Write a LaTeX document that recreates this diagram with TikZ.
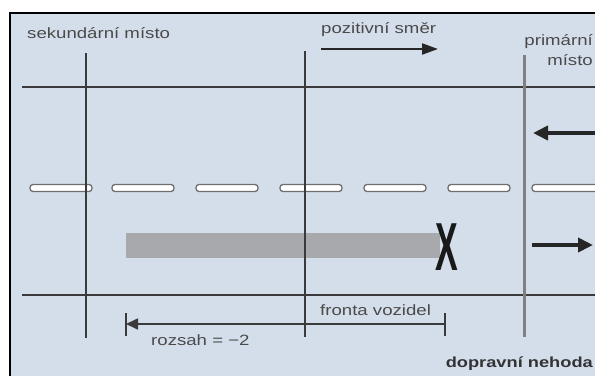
\documentclass[tikz,border=0pt]{standalone}
\usepackage{fontspec}
\setmainfont{Liberation Sans}
\newfontfamily\widefont[FakeStretch=1.25]{Liberation Sans}
\usetikzlibrary{arrows.meta}

\definecolor{panel}{HTML}{D4DEEA}
\definecolor{ink}{HTML}{3A3A3A}
\definecolor{txt}{HTML}{4A4A4A}
\definecolor{queue}{HTML}{A7A9AD}
\definecolor{markedge}{HTML}{6E6E6E}

\tikzset{
  roadedge/.style={draw=ink, line width=2pt},
  crossline/.style={draw=ink, line width=1.7pt},
  primline/.style={draw=black!50, line width=3pt},
  lanemark/.style={draw=markedge, fill=white, line width=1.3pt, rounded corners=3pt},
  lbl/.style={text=txt, inner sep=0pt, font=\widefont\fontsize{14.9}{17}\selectfont},
  boldlbl/.style={text=black!80, inner sep=0pt, font=\widefont\bfseries\fontsize{14.6}{17}\selectfont},
  flowarrow/.style={draw=black!85, line width=4.5pt, -{Triangle[length=15pt,width=14pt]}},
  dirarrow/.style={draw=black!85, line width=2.2pt, -{Triangle[length=16pt,width=11pt]}},
  tick/.style={draw=ink, line width=1.7pt},
}

\begin{document}
\begin{tikzpicture}[x=1pt, y=-1pt]
  \useasboundingbox (0,0) rectangle (595,376);

  % panel with its top and left edge
  \fill[panel] (10,13) rectangle (595,376);
  \draw[black, line width=2.4pt] (10,376) -- (10,13) -- (595,13);

  % road edges
  \draw[roadedge] (22,87) -- (595,87);
  \draw[roadedge] (22,295) -- (595,295);

  % centre lane markings
  \foreach \x in {30,112,196,280,364,448} {
    \draw[lanemark] (\x,184.5) rectangle ++(62,7);
  }
  \draw[lanemark] (532,184.5) rectangle (600,191.5);

  % stopped vehicle queue
  \fill[queue] (126,233) rectangle (440,258);

  % cross sections
  \draw[crossline] (86,53) -- (86,338);
  \draw[crossline] (305,51) -- (305,337);
  \draw[primline] (524,55) -- (524,337);

  % accident mark
  \node[inner sep=0pt, text=black!90] (crash) at (446.5,247.5)
    {\scalebox{0.85}[1.7]{\fontsize{40}{40}\selectfont\bfseries X}};

  % traffic directions
  \coordinate (inR) at (595,133);
  \coordinate (inL) at (533,133);
  \coordinate (outL) at (532,245);
  \coordinate (outR) at (593,245);
  \draw[flowarrow] (inR) -- (inL);
  \draw[flowarrow] (outL) -- (outR);

  % positive direction
  \coordinate (posA) at (321,49);
  \coordinate (posB) at (438,49);
  \draw[dirarrow] (posA) -- (posB);

  % queue extent
  \coordinate (rangeL) at (126,324);
  \coordinate (rangeR) at (445,324);
  \draw[tick] (126,313) -- (126,336);
  \draw[tick] (445,313) -- (445,336);
  \draw[draw=ink, line width=1.7pt, -{Triangle[length=12pt,width=11pt]}] (rangeR) -- (rangeL);

  % labels
  \node[lbl, anchor=base west] (sec) at (27,38) {sekundární místo};
  \node[lbl, anchor=base west] (pos) at (321,33) {pozitivní směr};
  \node[lbl, anchor=base east] (prim1) at (593,45) {primární};
  \node[lbl, anchor=base east] (prim2) at (593,65) {místo};
  \node[lbl, anchor=base west] (front) at (320,315) {fronta vozidel};
  \node[lbl, anchor=base west] (range) at (151,345) {rozsah = −2};
  \node[boldlbl, anchor=base east] (acc) at (593,367) {dopravní nehoda};
\end{tikzpicture}
\end{document}
